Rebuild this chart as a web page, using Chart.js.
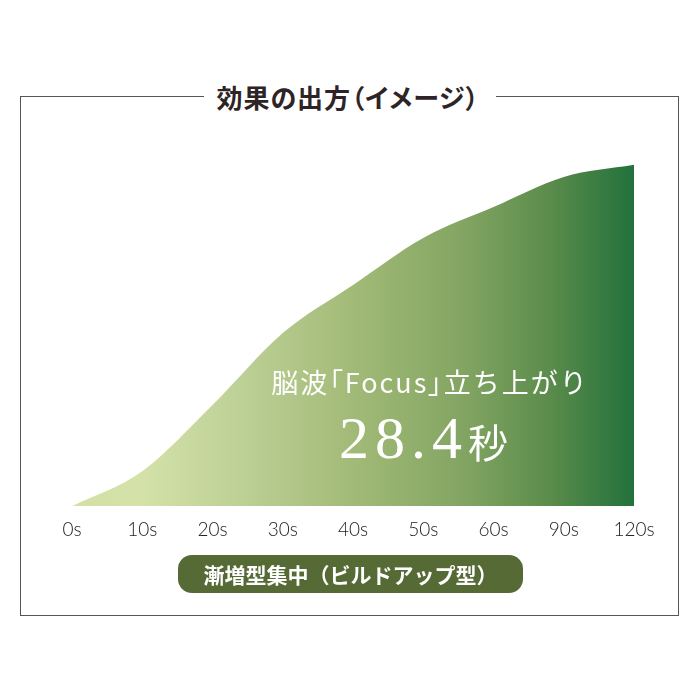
<!DOCTYPE html>
<html>
<head>
<meta charset="utf-8">
<script src="https://cdn.jsdelivr.net/npm/chart.js@4.4.1/dist/chart.umd.min.js"></script>
<style>
  html, body { margin: 0; padding: 0; background: #ffffff; }
  #wrap { position: relative; width: 700px; height: 700px; overflow: hidden; background: #fff; }
  #frame { position: absolute; left: 20px; top: 96px; width: 659px; height: 520px;
           border: 1.5px solid #555555; box-sizing: border-box; }
  #title { position: absolute; left: 0; width: 700px; top: 82px; text-align: center;
           font-family: "Noto Sans CJK JP", sans-serif; font-weight: 700; font-size: 26px;
           letter-spacing: 1px; line-height: 30px; color: #2e2426; font-feature-settings: "palt"; }
  #title span { background: #fff; padding: 0 16px 0 12px; }
  #chart { position: absolute; left: 0; top: 0; }
  #label1 { position: absolute; left: 230px; width: 400px; top: 367px; text-align: center;
            font-family: "Noto Sans CJK JP", sans-serif; font-weight: 400; font-size: 27px;
            letter-spacing: 2px; line-height: 30px; color: #ffffff; white-space: nowrap; }
  #label1 .br { font-feature-settings: "palt"; }
  #label2 { position: absolute; left: 339px; top: 408px; white-space: nowrap; color: #fff; line-height: 60px; }
  #label2 .num { font-family: "Liberation Serif", "Tinos", "Times New Roman", Times, "DejaVu Serif", "Noto Serif", "Noto Serif CJK JP", serif;
                 font-size: 60px; letter-spacing: 6px; font-weight: 400; }
  #label2 .sec { font-family: "Noto Sans CJK JP", sans-serif; font-size: 40px; }
  #pill { position: absolute; left: 178px; top: 555px; width: 345px; height: 38px; border-radius: 14px;
          background: #566a35; color: #fff; text-align: center; font-family: "Noto Sans CJK JP", sans-serif;
          font-weight: 700; font-size: 21px; line-height: 38px; }
</style>
</head>
<body>
<div id="wrap">
  <div id="frame"></div>
  <canvas id="chart" width="700" height="700"></canvas>
  <div id="title"><span>効果の出方（イメージ）</span></div>
  <div id="label1">脳波<span class="br">「</span>Focus<span class="br">」</span>立ち上がり</div>
  <div id="label2"><span class="num">28.4</span><span class="sec">秒</span></div>
  <div id="pill">漸増型集中（ビルドアップ型）</div>
</div>
<script>
// ---- data ----
const categories = ['0s', '10s', '20s', '30s', '40s', '50s', '60s', '90s', '120s'];
const focusLevel = [0, 10.1, 29.2, 50.0, 63.9, 77.5, 86.4, 95.1, 98.6];
const yMin = 0;
const yMax = 100;

function areaGradient(context) {
  const chart = context.chart;
  const area = chart.chartArea;
  if (!area) return '#9ab36e';
  const g = chart.ctx.createLinearGradient(area.left, 0, area.right, 0);
  g.addColorStop(0.00, '#d2e0a6');
  g.addColorStop(0.12, '#d4e2a9');
  g.addColorStop(0.30, '#bdd096');
  g.addColorStop(0.50, '#a2ba77');
  g.addColorStop(0.70, '#82a462');
  g.addColorStop(0.85, '#5b8c4b');
  g.addColorStop(1.00, '#22713c');
  return g;
}

new Chart(document.getElementById('chart'), {
  type: 'line',
  data: {
    labels: categories,
    datasets: [{
      data: focusLevel,
      fill: 'origin',
      backgroundColor: areaGradient,
      borderWidth: 0,
      borderColor: 'rgba(0,0,0,0)',
      pointRadius: 0,
      cubicInterpolationMode: 'monotone'
    }]
  },
  options: {
    responsive: false,
    animation: false,
    layout: { padding: { left: 72, right: 66, top: 160, bottom: 147 } },
    plugins: { legend: { display: false }, tooltip: { enabled: false } },
    scales: {
      x: {
        offset: false,
        grid: { display: false, drawTicks: false },
        border: { display: false },
        ticks: {
          padding: 12,
          color: '#222222',
          maxRotation: 0,
          autoSkip: false,
          font: { family: 'Lato', size: 19, weight: '300' }
        }
      },
      y: { display: false, min: yMin, max: yMax }
    }
  }
});
</script>
</body>
</html>
